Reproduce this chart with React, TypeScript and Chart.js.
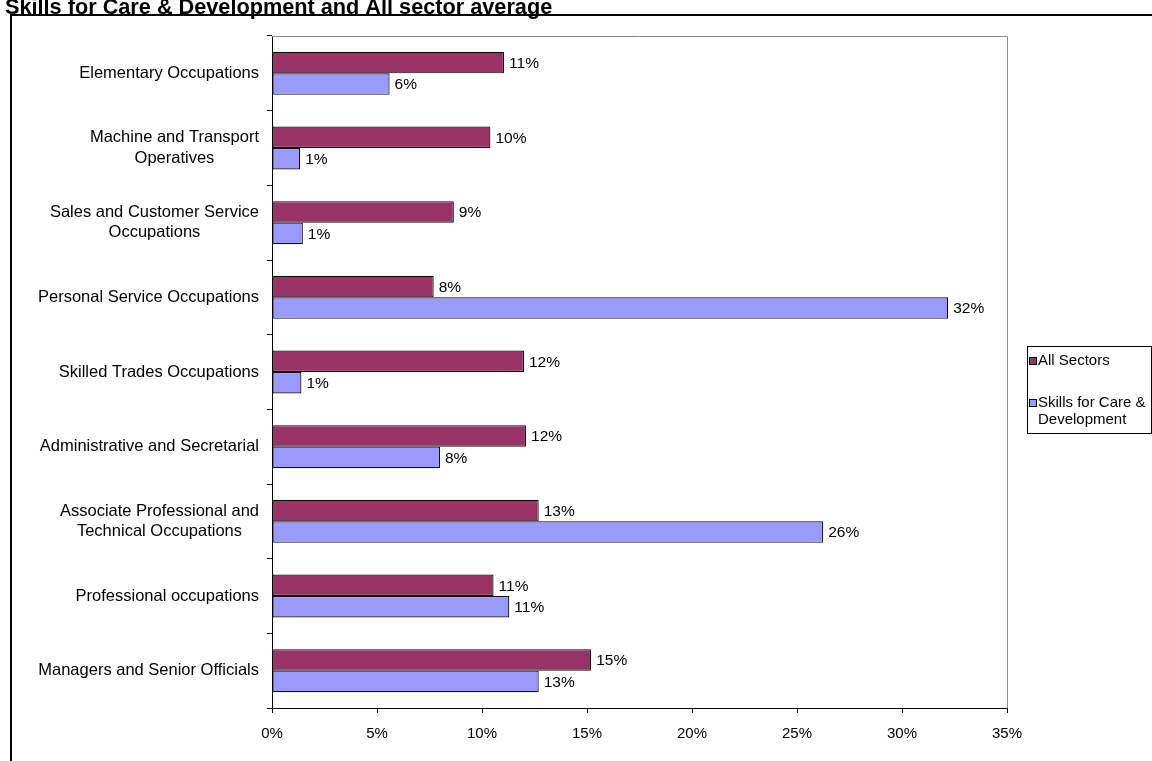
import React, { useEffect, useRef } from "react";
import { Chart, registerables } from "chart.js";

Chart.register(...registerables);

const TITLE = "Skills for Care & Development and All sector average";
const categories: string[][] = [
  ["Elementary Occupations"],
  ["Machine and Transport", "Operatives"],
  ["Sales and Customer Service", "Occupations"],
  ["Personal Service Occupations"],
  ["Skilled Trades Occupations"],
  ["Administrative and Secretarial"],
  ["Associate Professional and", "Technical Occupations"],
  ["Professional occupations"],
  ["Managers and Senior Officials"],
];
const seriesNames = ["All Sectors", "Skills for Care & Development"];
const legendLines: string[][] = [["All Sectors"], ["Skills for Care &", "Development"]];
const allSectors = [11.05, 10.4, 8.66, 7.7, 12.0, 12.1, 12.7, 10.55, 15.2];
const skillsForCare = [5.6, 1.34, 1.47, 32.2, 1.4, 8.0, 26.25, 11.3, 12.7];
const seriesColors = ["#993366", "#9999FF"];
const xTicksMax = 35;
const xTickStep = 5;

const FONT = '"Liberation Sans", Arial, sans-serif';

const customPlugin = {
  id: "custom",
  afterDraw(chart: any) {
    const ctx = chart.ctx;
    const area = chart.chartArea;
    ctx.save();
    // title
    ctx.fillStyle = "#000";
    ctx.font = `bold 21.7px ${FONT}`;
    ctx.textAlign = "left";
    ctx.textBaseline = "alphabetic";
    ctx.fillText(TITLE, 5, 13.5);
    // outer border
    ctx.strokeStyle = "#000";
    ctx.lineWidth = 2;
    ctx.beginPath();
    ctx.moveTo(11, 800);
    ctx.lineTo(11, 15);
    ctx.lineTo(1200, 15);
    ctx.stroke();
    // plot area border (top & right)
    ctx.strokeStyle = "#8c8c8c";
    ctx.lineWidth = 1;
    ctx.beginPath();
    ctx.moveTo(area.left, area.top + 0.5);
    ctx.lineTo(area.right + 0.5, area.top + 0.5);
    ctx.lineTo(area.right + 0.5, area.bottom);
    ctx.stroke();
    // y category labels
    const yScale = chart.scales.y;
    ctx.fillStyle = "#000";
    ctx.font = `16.5px ${FONT}`;
    ctx.textAlign = "center";
    ctx.textBaseline = "middle";
    const rightEdge = area.left - 13;
    const lh = 20.5;
    categories.forEach((lines, i) => {
      const yc = yScale.getPixelForTick(i);
      const w = Math.max(...lines.map((l) => ctx.measureText(l).width));
      const cx = rightEdge - w / 2;
      lines.forEach((l, j) => {
        ctx.fillText(l, cx, yc + (j - (lines.length - 1) / 2) * lh);
      });
    });
    // data labels
    ctx.font = `15.5px ${FONT}`;
    ctx.textAlign = "left";
    chart.data.datasets.forEach((ds: any, di: number) => {
      const meta = chart.getDatasetMeta(di);
      meta.data.forEach((bar: any, i: number) => {
        const v = ds.data[i];
        ctx.fillText(Math.round(v) + "%", bar.x + 5, bar.y + 1);
      });
    });
    // legend
    const lx = 1027, ly = 346, lw = 124, lhgt = 87;
    ctx.strokeStyle = "#000";
    ctx.lineWidth = 1;
    ctx.strokeRect(lx + 0.5, ly + 0.5, lw, lhgt);
    ctx.font = `15px ${FONT}`;
    const itemY = [361, 403];
    legendLines.forEach((lines, k) => {
      const y = itemY[k];
      ctx.fillStyle = seriesColors[k];
      ctx.fillRect(lx + 2, y - 4, 8, 8);
      ctx.strokeStyle = "#000";
      ctx.strokeRect(lx + 2.5, y - 3.5, 7, 7);
      ctx.fillStyle = "#000";
      ctx.textAlign = "left";
      lines.forEach((l, j) => {
        ctx.fillText(l, lx + 11, y + j * 17);
      });
    });
    ctx.restore();
  },
};

export default function App() {
  const ref = useRef<HTMLCanvasElement>(null);
  useEffect(() => {
    const chart = new Chart(ref.current as HTMLCanvasElement, {
      type: "bar",
      data: {
        labels: categories.map((c) => c.join(" ")),
        datasets: [
          {
            label: seriesNames[0],
            data: allSectors,
            backgroundColor: seriesColors[0],
            borderColor: "#111",
            borderWidth: 1.2,
            borderSkipped: false,
          },
          {
            label: seriesNames[1],
            data: skillsForCare,
            backgroundColor: seriesColors[1],
            borderColor: "#111",
            borderWidth: 1.2,
            borderSkipped: false,
          },
        ],
      },
      options: {
        indexAxis: "y",
        responsive: false,
        animation: false,
        devicePixelRatio: 1,
        layout: { padding: { left: 0, top: 36, right: 145, bottom: 0 } },
        datasets: { bar: { categoryPercentage: 0.576, barPercentage: 1 } },
        plugins: { legend: { display: false }, tooltip: { enabled: false }, title: { display: false } },
        scales: {
          x: {
            type: "linear",
            min: 0,
            max: xTicksMax,
            ticks: {
              stepSize: xTickStep,
              callback: (v: any) => v + "%",
              color: "#000",
              font: { family: FONT, size: 15 },
              padding: 12,
              maxRotation: 0,
            },
            grid: { drawOnChartArea: false, tickLength: 5, color: "#000" },
            border: { color: "#000", width: 1 },
            afterFit: (s: any) => {
              s.height = 53;
            },
          },
          y: {
            type: "category",
            ticks: { display: false },
            grid: { drawOnChartArea: false, tickLength: 5, color: "#000", offset: true },
            border: { color: "#000", width: 1 },
            afterFit: (s: any) => {
              s.width = 272;
            },
          },
        },
      } as any,
      plugins: [customPlugin],
    });
    return () => chart.destroy();
  }, []);
  return (
    <div style={{ position: "fixed", left: 0, top: 0, width: 1152, height: 761, background: "#fff" }}>
      <canvas ref={ref} width={1152} height={761} style={{ display: "block" }} />
    </div>
  );
}
